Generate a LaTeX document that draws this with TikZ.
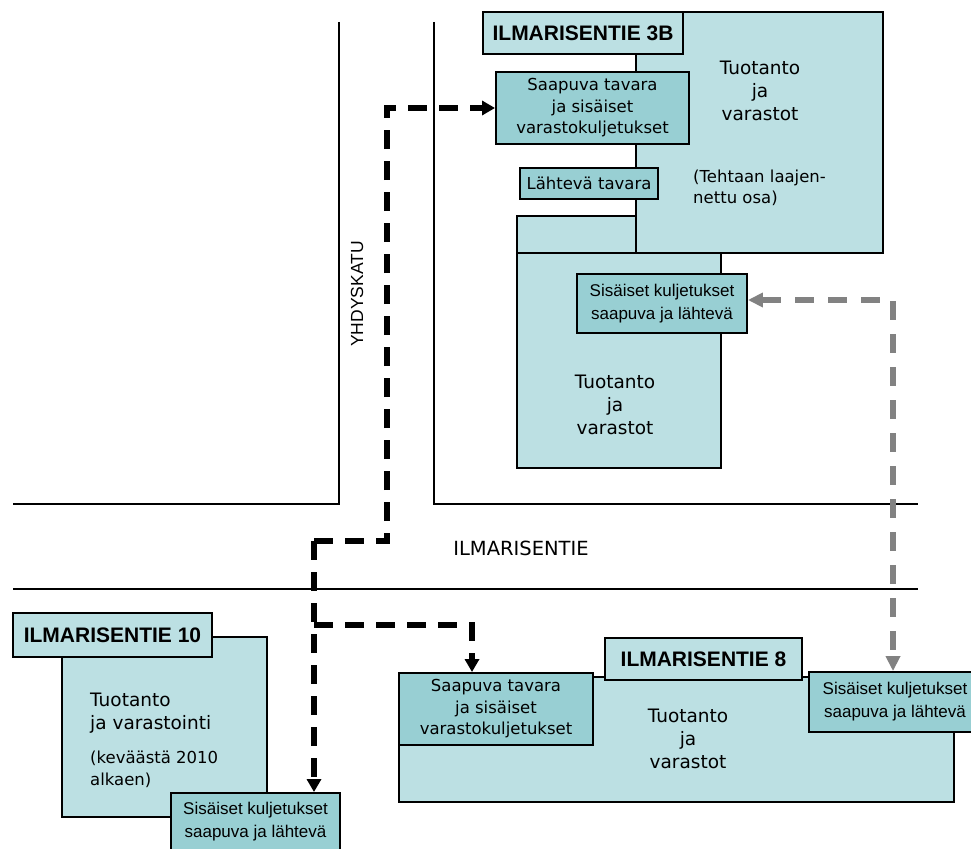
\documentclass[tikz,border=0pt]{standalone}
\usepackage{fontspec}
\newfontfamily\vf{DejaVu Sans}
\newfontfamily\af{Liberation Sans}
\usetikzlibrary{arrows.meta}
\definecolor{lightc}{RGB}{188,224,227}
\definecolor{darkc}{RGB}{152,207,211}
\definecolor{dgray}{RGB}{130,130,130}
\tikzset{
  road/.style={draw=black, line width=1.8pt},
  bldg/.style={draw=black, line width=1.9pt, fill=lightc},
  lblbox/.style={draw=black, line width=1.9pt, fill=lightc, inner sep=0pt,
    font=\af\bfseries\fontsize{21}{24}\selectfont},
  vbox/.style={draw=black, line width=1.9pt, fill=darkc, inner sep=0pt, align=center,
    font=\vf\fontsize{16.5}{21.5}\selectfont},
  abox/.style={draw=black, line width=1.9pt, fill=darkc, inner sep=0pt, align=center,
    font=\af\fontsize{17}{23}\selectfont},
  bigtxt/.style={inner sep=0pt, align=center, font=\vf\fontsize{18.5}{23}\selectfont},
  smalltxt/.style={inner sep=0pt, align=left, font=\vf\fontsize{16.5}{21.5}\selectfont},
  bdash/.style={draw=black, line width=5.3pt, dash pattern=on 19pt off 12pt,
    -{Triangle[length=13pt,width=14pt]}},
  gdash/.style={draw=dgray, line width=5.5pt, dash pattern=on 19pt off 14pt,
    {Triangle[length=15pt,width=14pt]}-{Triangle[length=15pt,width=14pt]}},
}
\begin{document}
\begin{tikzpicture}[x=1pt,y=-1pt]
\useasboundingbox (0,0) rectangle (971,848);
\clip (0,0) rectangle (971,848);
\fill[white] (0,0) rectangle (971,848);

% roads
\draw[road] (339,22) -- (339,504) -- (13,504);
\draw[road] (434,22) -- (434,504) -- (918,504);
\draw[road] (13,589) -- (918,589);
\node[inner sep=0pt, font=\vf\fontsize{19.5}{22}\selectfont] (roadA) at (521,548) {ILMARISENTIE};
\node[inner sep=0pt, rotate=90, font=\af\fontsize{17.5}{20}\selectfont] (roadB) at (357,294) {YHDYSKATU};

% ILMARISENTIE 3B
\draw[bldg] (636,12) rectangle (883,253);
\draw[bldg] (517,216) rectangle (636,253);
\draw[bldg] (517,253) rectangle (721,468);
\node[lblbox, minimum width=200pt, minimum height=42pt] (lbl3b) at (583,33) {ILMARISENTIE 3B};
\node[vbox, minimum width=193pt, minimum height=72pt] (sp3b) at (592.5,108) {Saapuva tavara\\ja sisäiset\\varastokuljetukset};
\node[vbox, minimum width=138pt, minimum height=31pt] (lah) at (589,183.5) {Lähtevä tavara};
\node[bigtxt] (t3b) at (760,91) {Tuotanto\\ja\\varastot};
\node[smalltxt, anchor=west] (n3b) at (693,188) {(Tehtaan laajen-\\nettu osa)};
\node[abox, minimum width=170pt, minimum height=59pt] (sis3b) at (662,303.5) {Sisäiset kuljetukset\\saapuva ja lähtevä};
\node[bigtxt] (t3blow) at (615,405) {Tuotanto\\ja\\varastot};

% ILMARISENTIE 10
\draw[bldg] (62,637) rectangle (267,817);
\node[lblbox, minimum width=199pt, minimum height=44pt] (lbl10) at (112.5,635) {ILMARISENTIE 10};
\node[bigtxt, align=left, anchor=north west] (t10) at (90,693) {Tuotanto\\ja varastointi};
\node[smalltxt, anchor=north west] (n10) at (90,751) {(keväästä 2010\\alkaen)};
\node[abox, minimum width=169pt, minimum height=58pt] (sis10) at (255.5,822) {Sisäiset kuljetukset\\saapuva ja lähtevä};

% ILMARISENTIE 8
\draw[bldg] (399,677) rectangle (954,802);
\node[lblbox, minimum width=197pt, minimum height=42pt] (lbl8) at (703.5,659) {ILMARISENTIE 8};
\node[vbox, minimum width=194pt, minimum height=72pt] (sp8) at (496,709) {Saapuva tavara\\ja sisäiset\\varastokuljetukset};
\node[bigtxt] (t8) at (688,739) {Tuotanto\\ja\\varastot};
\node[abox, minimum width=172pt, minimum height=60pt] (sis8) at (895,702) {Sisäiset kuljetukset\\saapuva ja lähtevä};

% connectors
\coordinate (j1) at (314,541);
\coordinate (j2) at (387,541);
\coordinate (j3) at (387,108);
\coordinate (j4) at (314,625);
\coordinate (j5) at (472,625);
\coordinate (g1) at (893,300);
\draw[bdash] (j1) -- (j2) -- (j3) -- (sp3b.west);
\draw[bdash] (j1) -- (j1 |- sis10.north);
\draw[bdash] (j4) -- (j5) -- (j5 |- sp8.north);
\draw[gdash] (sis3b.east |- g1) -- (g1) -- (g1 |- sis8.north);
\end{tikzpicture}
\end{document}
